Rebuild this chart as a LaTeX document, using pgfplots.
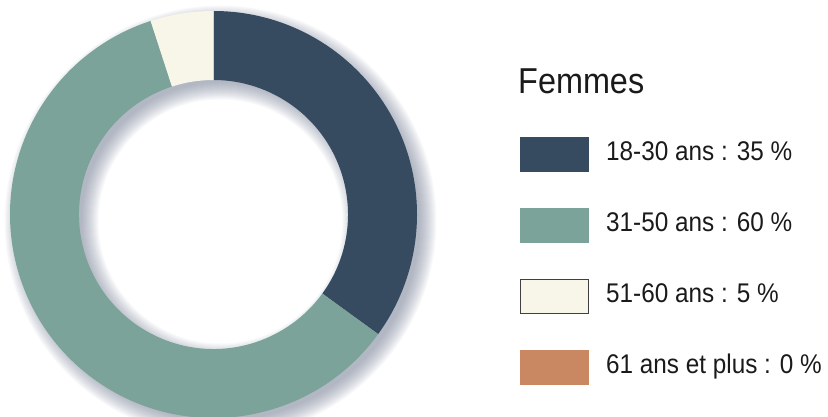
\documentclass[border=0pt]{standalone}
\usepackage{pgfplots}
\pgfplotsset{compat=1.18}
\usepackage{pgfplotstable}
\usepackage{fontspec}
\setmainfont{Liberation Sans}[FakeStretch=0.9]

\definecolor{cA}{HTML}{364B60}
\definecolor{cB}{HTML}{7BA399}
\definecolor{cC}{HTML}{F8F6E8}
\definecolor{cD}{HTML}{C98862}
\definecolor{shad}{HTML}{68728A}
\definecolor{txt}{HTML}{1A1A1A}

% age groups, share in percent, colour
\pgfplotstableread[col sep=comma]{
label,value,col
18-30 ans,35,cA
31-50 ans,60,cB
51-60 ans,5,cC
61 ans et plus,0,cD
}\agedata

\begin{document}
\begin{tikzpicture}
\useasboundingbox (0,0) rectangle (828bp,417bp);
\begin{axis}[
  hide axis, scale only axis, clip=false,
  width=828bp, height=417bp,
  xmin=0, xmax=828, ymin=0, ymax=417,
  at={(0,0)}, anchor=south west,
  ]
  % soft shadow behind the ring
  \pgfplotsforeachungrouped \k in {1,...,18}{
    \edef\tmp{\noexpand\fill[shad, fill opacity=0.04, even odd rule]
      (axis cs:220.5,195.5) circle[radius=\the\numexpr 198+\k\relax bp]
      (axis cs:220.5,195.5) circle[radius=\the\numexpr 140-\k\relax bp];}
    \tmp
  }
  \pgfplotstablegetrowsof{\agedata}
  \pgfmathtruncatemacro\nrows{\pgfplotsretval-1}
  \def\angstart{90}
  \pgfplotsforeachungrouped \i in {0,...,\nrows}{
    \pgfplotstablegetelem{\i}{value}\of\agedata \let\val\pgfplotsretval
    \pgfplotstablegetelem{\i}{col}\of\agedata \let\col\pgfplotsretval
    \pgfplotstablegetelem{\i}{label}\of\agedata \let\lab\pgfplotsretval
    \pgfmathsetmacro\angend{\angstart-3.6*\val}
    \ifdim\val pt>0pt
      \edef\tmp{\noexpand\fill[\col] (axis cs:213.5,202.5) ++(\angstart:203.5bp)
        arc[start angle=\angstart, end angle=\angend, radius=203.5bp]
        -- ([shift={(\angend:134.5bp)}]axis cs:213.5,202.5)
        arc[start angle=\angend, end angle=\angstart, radius=134.5bp] -- cycle;}
      \tmp
    \fi
    \pgfmathsetmacro\ytop{280-71*\i}
    \pgfmathsetmacro\ybase{256-71*\i}
    \edef\tmp{\noexpand\filldraw[fill=\col, draw=\ifnum\i=2 black!75\else \col\fi, line width=0.8bp]
      (axis cs:520,\ytop) rectangle (axis cs:588,\ytop-34);
      \noexpand\node[anchor=base west, inner sep=0pt, text=txt, font=\noexpand\fontsize{27bp}{30bp}\noexpand\selectfont]
      at (axis cs:606,\ybase) {\lab\space:\space\val\space\noexpand\%};}
    \tmp
    \global\let\angstart\angend
  }
  \node[anchor=base west, inner sep=0pt, text=txt, font=\fontsize{36bp}{40bp}\selectfont]
    at (axis cs:518,323.7) {Femmes};
\end{axis}
\end{tikzpicture}
\end{document}
